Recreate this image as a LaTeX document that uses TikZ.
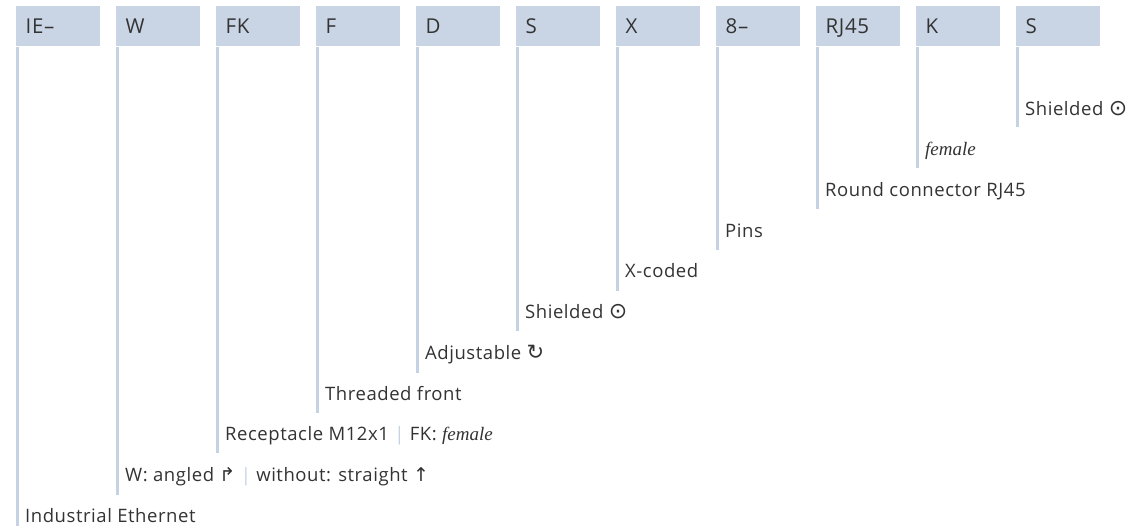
\documentclass[tikz,border=0pt]{standalone}
\usepackage{fontspec}
\newfontfamily\labfont{Open Sans}[LetterSpace=3]
\newfontfamily\codefont{Open Sans}[LetterSpace=3]
\newfontfamily\symfont{DejaVu Sans}
\newfontfamily\femfont{Liberation Serif}
\definecolor{boxc}{HTML}{C9D5E5}
\definecolor{linec}{HTML}{C5D2E3}
\definecolor{txtc}{HTML}{333333}
\tikzset{
  codebox/.style={rectangle, fill=boxc, anchor=north west, minimum width=84pt, minimum height=40pt,
    inner xsep=9.5pt, inner ysep=0pt, text width=65pt, align=left, text height=14.5pt, text depth=0pt,
    font=\codefont\fontsize{20.5}{24}\selectfont, text=txtc},
  lab/.style={anchor=base west, inner sep=0pt, font=\labfont\fontsize{18.5}{22}\selectfont, text=txtc},
  conn/.style={draw=linec, line width=3pt},
}
\newcommand{\sepbar}{{\color{linec}|}}
\newcommand{\fem}{{\femfont\itshape\fontsize{19}{22}\selectfont female}}
\newcommand{\symb}[2]{{\symfont\fontsize{#1}{22}\selectfont #2}}
\begin{document}
\begin{tikzpicture}[x=1pt,y=-1pt]
\useasboundingbox (0,0) rectangle (1131,526);
% code boxes
\node[codebox] (b1) at (16,6) {IE–};
\node[codebox] (b2) at (116,6) {W};
\node[codebox] (b3) at (216,6) {FK};
\node[codebox] (b4) at (316,6) {F};
\node[codebox] (b5) at (416,6) {D};
\node[codebox] (b6) at (516,6) {S};
\node[codebox] (b7) at (616,6) {X};
\node[codebox] (b8) at (716,6) {8–};
\node[codebox] (b9) at (816,6) {RJ45};
\node[codebox] (b10) at (916,6) {K};
\node[codebox] (b11) at (1016,6) {S};
% labels (baseline positions)
\node[lab] (l1) at (25,522) {Industrial Ethernet};
\node[lab] (l2) at (125,481) {W: angled \symb{19}{↱} \sepbar{} without: straight \symb{19}{↑}};
\node[lab] (l3) at (225,440) {Receptacle M12x1 \sepbar{} FK: \fem};
\node[lab] (l4) at (325,400) {Threaded front};
\node[lab] (l5) at (425,359) {Adjustable \symb{21}{↻}};
\node[lab] (l6) at (525,318) {Shielded \symb{22}{⊙}};
\node[lab] (l7) at (625,278) {X-coded};
\node[lab] (l8) at (725,238) {Pins};
\node[lab] (l9) at (825,197) {Round connector RJ45};
\node[lab] (l10) at (925,156) {\fem};
\node[lab] (l11) at (1025,116) {Shielded \symb{22}{⊙}};
% line ends
\coordinate (e1) at (17.5,526);
\coordinate (e2) at (117.5,495);
\coordinate (e3) at (217.5,453);
\coordinate (e4) at (317.5,413);
\coordinate (e5) at (417.5,373);
\coordinate (e6) at (517.5,331);
\coordinate (e7) at (617.5,291);
\coordinate (e8) at (717.5,250);
\coordinate (e9) at (817.5,209);
\coordinate (e10) at (917.5,168);
\coordinate (e11) at (1017.5,127);
\foreach \i in {1,...,11}{
  \draw[conn] ([xshift=1.5pt,yshift=-1pt]b\i.south west) -- (e\i);
}
\end{tikzpicture}
\end{document}
